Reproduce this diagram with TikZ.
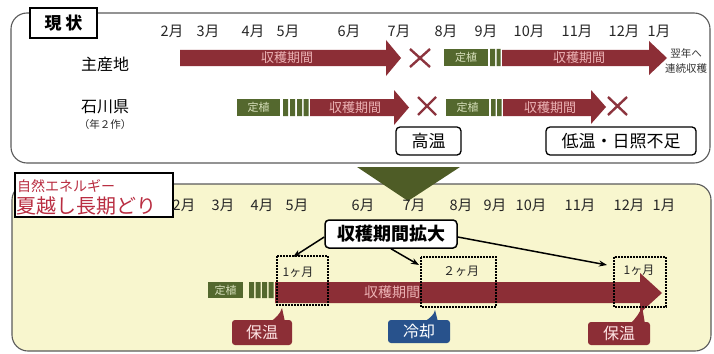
\documentclass[tikz,border=0pt]{standalone}
\usepackage{fontspec}
\setmainfont{Noto Sans CJK JP}
\usetikzlibrary{arrows.meta}
\definecolor{barred}{RGB}{140,46,54}
\definecolor{bargreen}{RGB}{84,104,46}
\definecolor{greentext}{RGB}{214,222,186}
\definecolor{redtext}{RGB}{236,178,180}
\definecolor{xred}{RGB}{140,52,62}
\definecolor{trigreen}{RGB}{78,92,38}
\definecolor{paneyellow}{RGB}{248,246,206}
\definecolor{calblue}{RGB}{40,82,140}
\definecolor{titlered}{RGB}{185,45,65}
\definecolor{panelgray}{RGB}{90,90,90}
\begin{document}
\begin{tikzpicture}[x=1pt,y=-1pt,
  panel/.style={draw=panelgray,line width=1.1pt,rounded corners=16pt},
  month/.style={font=\fontsize{14.5}{14.5}\selectfont,text=black!85,inner sep=0pt},
  rowlabel/.style={font=\fontsize{16}{16}\selectfont,inner sep=0pt},
  bartext/.style={font=\fontsize{13}{13}\selectfont,text=redtext,inner sep=0pt},
  teitext/.style={font=\fontsize{11}{11}\selectfont,text=greentext,inner sep=0pt},
  xmark/.style={draw=xred,line width=2.4pt},
  causebox/.style={draw=black,line width=1.3pt,rounded corners=4pt,fill=white,font=\fontsize{17}{17}\selectfont,inner sep=0pt},
  dotbox/.style={draw=black,line width=1.6pt,dash pattern=on 1.6pt off 1.4pt},
  conn/.style={draw=black,line width=1.5pt,-{Stealth[length=8pt,width=6pt]}},
  calltext/.style={font=\fontsize{16}{16}\selectfont,inner sep=0pt},
  smalltext/.style={font=\fontsize{12}{12}\selectfont,text=black!85,inner sep=0pt}
]
\useasboundingbox (0,0) rectangle (714,353);

% ---------- top panel ----------
\draw[panel,fill=white] (11,13) rectangle (710,163);
\node[draw=black,line width=1.2pt,fill=white,minimum width=67pt,minimum height=30pt,inner sep=0pt,
  font=\fontsize{17}{17}\selectfont\bfseries] (genjo) at (63.5,23) {現 状};

\foreach \m/\x [count=\i] in {2月/172,3月/208,4月/253,5月/288,6月/349,7月/399,8月/446,9月/486,10月/529,11月/577,12月/624,1月/659}
  \node[month] (tm\i) at (\x,31) {\m};

\node[rowlabel] (shusan) at (105,64) {主産地};
\node[rowlabel] (ishikawa) at (105,107) {石川県};
\node[font=\fontsize{10.5}{10.5}\selectfont,inner sep=0pt,text=black!85] (nisaku) at (105,125) {（年２作）};

% row 1
\fill[barred] (180,50) -- (386,50) -- (386,40) -- (401,58) -- (386,76) -- (386,66) -- (180,66) -- cycle;
\node[bartext] (r1a) at (287,58) {収穫期間};
\draw[xmark] (410,49) -- (430,67) (430,49) -- (410,67);
\fill[bargreen] (444,49) rectangle (488,66);
\node[teitext] (t1a) at (466,57.5) {定植};
\fill[bargreen] (490,49) rectangle (495,66) (496.5,49) rectangle (500.5,66);
\fill[barred] (502,50) -- (649,50) -- (649,41) -- (667,58) -- (649,75) -- (649,66) -- (502,66) -- cycle;
\node[bartext] (r1b) at (579,58) {収穫期間};
\node[font=\fontsize{10.5}{10.5}\selectfont,inner sep=0pt,text=black!80] (yoku1) at (686,53) {翌年へ};
\node[font=\fontsize{10.5}{10.5}\selectfont,inner sep=0pt,text=black!80] (yoku2) at (686,69) {連続収穫};

% row 2
\fill[bargreen] (237,99) rectangle (280,116);
\node[teitext] (t2a) at (258.5,107.5) {定植};
\fill[bargreen] (283,99) rectangle (288,116) (290,99) rectangle (295,116) (297,99) rectangle (302,116) (303.5,99) rectangle (308.5,116);
\fill[barred] (310,99) -- (394,99) -- (394,90) -- (409,107.5) -- (394,125) -- (394,116) -- (310,116) -- cycle;
\node[bartext] (r2a) at (355,107.5) {収穫期間};
\draw[xmark] (418,97) -- (436,115) (436,97) -- (418,115);
\fill[bargreen] (446,99) rectangle (489,116);
\node[teitext] (t2b) at (467.5,107.5) {定植};
\fill[bargreen] (491,99) rectangle (495.5,116) (497,99) rectangle (501.5,116);
\fill[barred] (503,99) -- (591,99) -- (591,90) -- (606,107) -- (591,124) -- (591,116) -- (503,116) -- cycle;
\node[bartext] (r2b) at (550,107.5) {収穫期間};
\draw[xmark] (608,97) -- (627,115) (627,97) -- (608,115);

\node[causebox,minimum width=65pt,minimum height=28pt] (koon) at (428.5,141) {高温};
\node[causebox,minimum width=150pt,minimum height=28pt] (teion) at (621,141) {低温・日照不足};

% ---------- bottom panel ----------
\draw[panel,fill=paneyellow] (12,184) rectangle (711,351);
\node[draw=black,line width=1.2pt,fill=white,minimum width=158pt,minimum height=44pt,inner sep=0pt] (titlebox) at (94,195) {};
\node[anchor=west,inner sep=0pt,text=titlered,font=\fontsize{14}{14}\selectfont] (shizen) at (17,186) {自然エネルギー};
\node[anchor=west,inner sep=0pt,text=titlered,font=\fontsize{20}{20}\selectfont] (natsu) at (16,206) {夏越し長期どり};

\fill[trigreen] (357,167) -- (460,167) -- (408,201) -- cycle;

\foreach \m/\x [count=\i] in {2月/184,3月/223,4月/262,5月/297,6月/363,7月/414,8月/461,9月/495,10月/531,11月/580,12月/629,1月/664}
  \node[month] (bm\i) at (\x,205) {\m};

% bottom bar
\fill[bargreen] (208,282) rectangle (243,298);
\node[teitext] (t3) at (225.5,290) {定植};
\fill[bargreen] (249,282) rectangle (254,298) (255.5,282) rectangle (260.5,298) (262,282) rectangle (267,298) (268.5,282) rectangle (273.5,298);
\fill[barred] (275,282) -- (640,282) -- (640,273) -- (662,293) -- (640,313) -- (640,303) -- (275,303) -- cycle;
\node[bartext,font=\fontsize{14}{14}\selectfont] (r3) at (392,292.5) {収穫期間};

% dotted boxes
\draw[dotbox] (277,256) rectangle (328,305);
\node[smalltext] (m1) at (298,272) {1ヶ月};
\draw[dotbox] (421,257) rectangle (496,307);
\node[smalltext] (m2) at (461,271) {２ヶ月};
\draw[dotbox] (614,257) rectangle (666,307);
\node[smalltext] (m3) at (639,270) {1ヶ月};

% expansion box and connectors
\node[draw=black,line width=1.5pt,rounded corners=4pt,fill=white,minimum width=132pt,minimum height=28pt,inner sep=0pt,
  font=\fontsize{18}{18}\selectfont\bfseries] (kakudai) at (391,234) {収穫期間拡大};
\coordinate (p1) at (293,257);
\coordinate (p2) at (419,265);
\coordinate (p3) at (607,265);
\draw[conn] ([yshift=-3pt]kakudai.west) -- (p1);
\draw[conn] (kakudai.south) -- (p2);
\draw[conn] ([yshift=-3pt]kakudai.east) -- (p3);

% callouts
\fill[barred] (270,322) .. controls (276,318) and (280,314) .. (282,308) -- (285,322) -- cycle;
\node[fill=barred,rounded corners=3pt,minimum width=60pt,minimum height=25pt,calltext,text=white!90!red] (hoon1) at (262,332.5) {保温};
\fill[calblue] (424,322) .. controls (430,318) and (434,315) .. (435,310) -- (438,322) -- cycle;
\node[fill=calblue,rounded corners=3pt,minimum width=62pt,minimum height=23pt,calltext,text=white] (reikyaku) at (419,331.5) {冷却};
\fill[barred] (630,324) .. controls (636,318) and (640,313) .. (642,306) -- (645,324) -- cycle;
\node[fill=barred,rounded corners=3pt,minimum width=62pt,minimum height=23pt,calltext,text=white!90!red] (hoon2) at (619,333.5) {保温};
\end{tikzpicture}
\end{document}
